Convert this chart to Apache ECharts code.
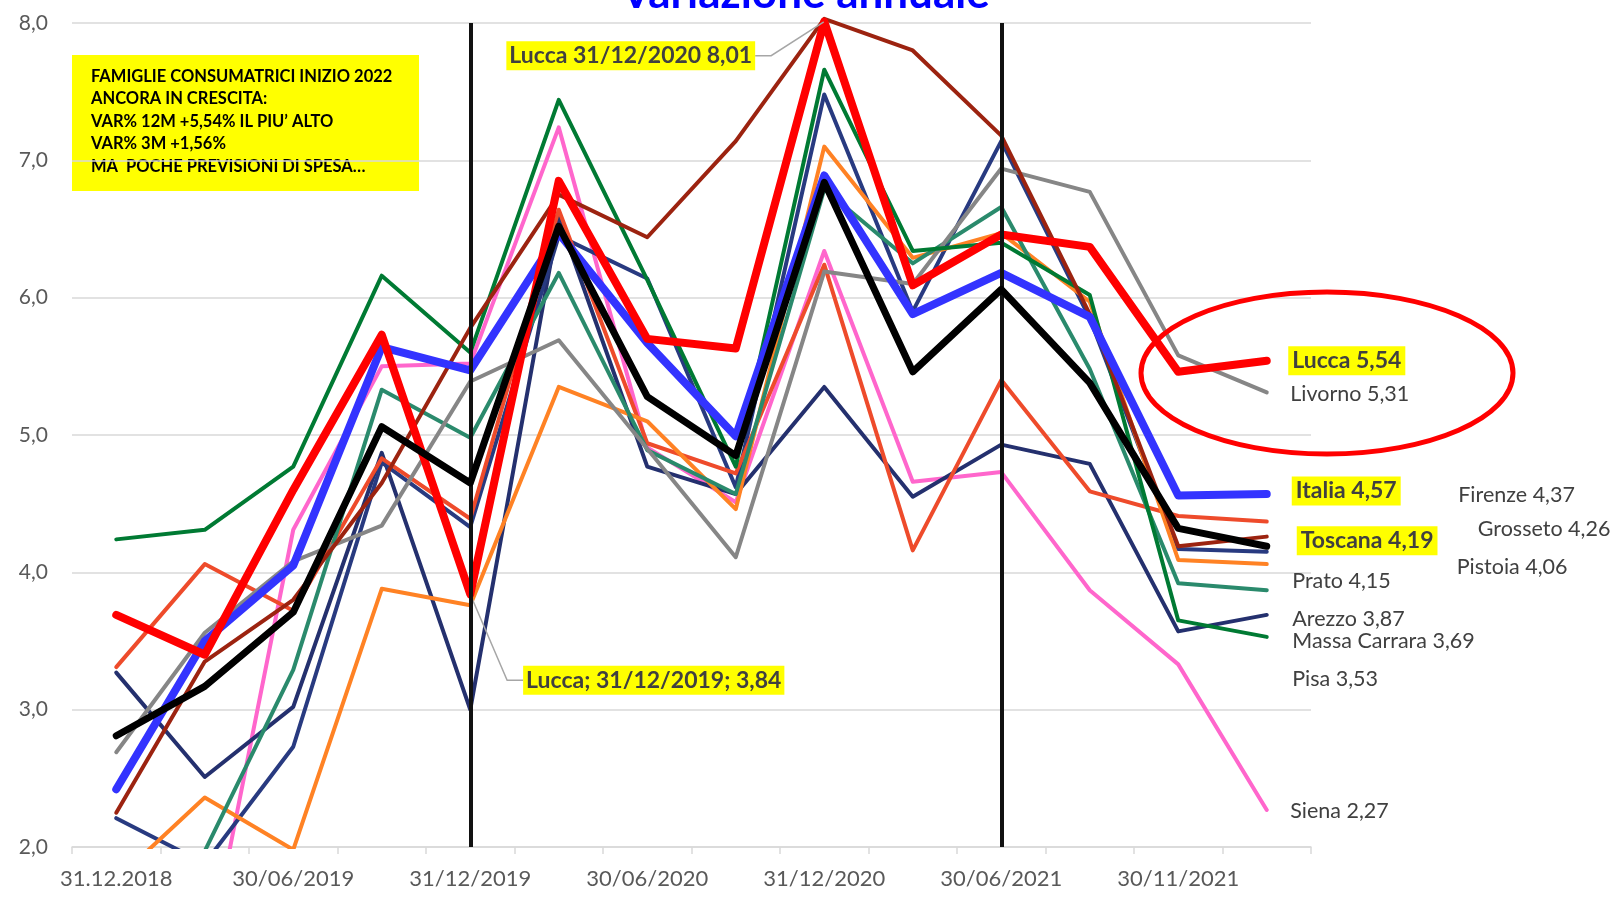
<!DOCTYPE html>
<html>
<head>
<meta charset="utf-8">
<title>Variazione annuale</title>
<script src="https://cdn.jsdelivr.net/npm/echarts@6/dist/echarts.min.js"></script>
<style>
  html, body { margin: 0; padding: 0; background: #fff; }
  #chart { width: 1623px; height: 897px; }
</style>
</head>
<body>
<div id="chart"></div>
<script>
// fine trimestre (etichette mostrate una sì e una no)
const categories = ['31.12.2018', '31/03/2019', '30/06/2019', '30/09/2019', '31/12/2019', '31/03/2020',
  '30/06/2020', '30/09/2020', '31/12/2020', '31/03/2021', '30/06/2021', '30/09/2021', '30/11/2021', '28/02/2022'];

// variazione annuale % famiglie consumatrici
const lucca        = [3.69, 3.40, 4.60, 5.73, 3.84, 6.85, 5.70, 5.63, 8.01, 6.09, 6.46, 6.37, 5.46, 5.54];
const italia       = [2.42, 3.50, 4.05, 5.64, 5.47, 6.47, 5.67, 4.99, 6.89, 5.88, 6.18, 5.86, 4.56, 4.57];
const toscana      = [2.81, 3.17, 3.71, 5.06, 4.65, 6.52, 5.28, 4.85, 6.84, 5.46, 6.06, 5.38, 4.32, 4.19];
const livorno      = [2.69, 3.56, 4.08, 4.34, 5.39, 5.69, 4.90, 4.11, 6.19, 6.10, 6.94, 6.77, 5.58, 5.31];
const firenze      = [3.31, 4.06, 3.72, 4.83, 4.39, 6.64, 4.94, 4.72, 6.24, 4.16, 5.40, 4.59, 4.41, 4.37];
const grosseto     = [2.25, 3.35, 3.80, 4.65, 5.78, 6.75, 6.44, 7.14, 8.03, 7.80, 7.18, 5.88, 4.19, 4.26];
const pistoia      = [1.76, 2.36, 1.98, 3.88, 3.76, 5.35, 5.10, 4.46, 7.10, 6.29, 6.47, 5.97, 4.09, 4.06];
const prato        = [2.21, 1.88, 2.73, 4.80, 4.33, 6.45, 6.14, 4.62, 7.48, 5.90, 7.14, 5.85, 4.17, 4.15];
const arezzo       = [1.60, 1.97, 3.29, 5.33, 4.98, 6.18, 4.89, 4.57, 6.79, 6.25, 6.66, 5.48, 3.92, 3.87];
const massaCarrara = [3.27, 2.51, 3.02, 4.87, 3.00, 6.58, 4.77, 4.57, 5.35, 4.55, 4.93, 4.79, 3.57, 3.69];
const pisa         = [4.24, 4.31, 4.77, 6.16, 5.60, 7.44, 6.13, 4.77, 7.66, 6.34, 6.40, 6.02, 3.65, 3.53];
const siena        = [1.00, 1.07, 4.31, 5.50, 5.52, 7.24, 4.91, 4.51, 6.34, 4.66, 4.73, 3.87, 3.33, 2.27];

const noteLines = [
  'FAMIGLIE CONSUMATRICI INIZIO 2022',
  'ANCORA IN CRESCITA:',
  'VAR% 12M +5,54% IL PIU\u2019 ALTO',
  'VAR% 3M +1,56%',
  'MA  POCHE PREVISIONI DI SPESA\u2026'
];

const FONT = 'Lato, "Open Sans", sans-serif';
const comma = (v, d) => v.toFixed(d).replace('.', ',');

// colore, spessore, spostamento etichetta finale, evidenziata
const lineDefs = [
  { name: 'Siena', data: siena, color: '#FF66CC', width: 4, off: [23.5, 1.5] },
  { name: 'Massa Carrara', data: massaCarrara, color: '#24306E', width: 4, off: [25.5, 26] },
  { name: 'Prato', data: prato, color: '#283A80', width: 4, off: [25.5, 29] },
  { name: 'Firenze', data: firenze, color: '#EE4B2B', width: 4, off: [191.5, -26] },
  { name: 'Pistoia', data: pistoia, color: '#FF8224', width: 4, off: [190, 3] },
  { name: 'Arezzo', data: arezzo, color: '#2A8A6C', width: 4, off: [25.5, 29] },
  { name: 'Livorno', data: livorno, color: '#868686', width: 4, off: [23.5, 2] },
  { name: 'Pisa', data: pisa, color: '#007A33', width: 4, off: [25.5, 42] },
  { name: 'Grosseto', data: grosseto, color: '#9C2310', width: 4, off: [211, -8], noClip: true },
  { name: 'Toscana', data: toscana, color: '#000000', width: 7, off: [30, -5.5], bold: true },
  { name: 'Italia', data: italia, color: '#3333FF', width: 8, off: [25, -3], bold: true },
  { name: 'Lucca', data: lucca, color: '#FF0000', width: 8, off: [21.5, 0], bold: true, noClip: true }
];

const series = lineDefs.map(function (d) {
  return {
    name: d.name,
    type: 'line',
    data: d.data,
    showSymbol: false,
    clip: !d.noClip,
    lineStyle: { color: d.color, width: d.width, cap: 'round', join: 'round' },
    itemStyle: { color: d.color },
    emphasis: { disabled: true },
    endLabel: {
      show: true,
      distance: 0,
      offset: d.off,
      formatter: p => p.seriesName + ' ' + comma(p.value, 2),
      fontFamily: FONT,
      fontSize: d.bold ? 23 : 21.5,
      fontWeight: d.bold ? 'bold' : 'normal',
      color: '#404040',
      backgroundColor: d.bold ? '#FFFF00' : 'transparent',
      padding: d.bold ? [3, 4] : 0
    }
  };
});

// etichette di Lucca sui due punti notevoli
const luccaSeries = series[series.length - 1];
const callouts = {
  4: { text: 'Lucca; 31/12/2019; 3,84', dx: 183.5, dy: 86 },
  8: { text: 'Lucca 31/12/2020 8,01', dx: -193.5, dy: 34 }
};
luccaSeries.showSymbol = true;
luccaSeries.symbol = 'circle';
luccaSeries.symbolSize = 1;
luccaSeries.data = lucca.map(function (v, i) {
  if (!callouts[i]) return v;
  return {
    value: v,
    label: {
      show: true,
      position: 'inside',
      formatter: callouts[i].text,
      fontFamily: FONT,
      fontSize: 23,
      fontWeight: 'bold',
      color: '#404040',
      backgroundColor: '#FFFF00',
      padding: [3, 3]
    },
    labelLine: { show: true, length2: 16, lineStyle: { color: '#A6A6A6', width: 1.5 } }
  };
});
luccaSeries.labelLayout = function (params) {
  const c = callouts[params.dataIndex];
  return c ? { dx: c.dx, dy: c.dy } : {};
};

// linee verticali nere
series[9].markLine = {
  silent: true,
  symbol: ['none', 'none'],
  label: { show: false },
  lineStyle: { color: '#111111', width: 4, type: 'solid' },
  data: [{ xAxis: categories[4] }, { xAxis: categories[10] }]
};
series[9].z = 5;

const chart = echarts.init(document.getElementById('chart'));
const option = {
  animation: false,
  backgroundColor: '#ffffff',
  title: {
    text: 'Variazione annuale',
    left: 616,
    top: -33,
    textStyle: { fontFamily: FONT, fontSize: 44, fontWeight: 'bold', color: '#0000FF' }
  },
  grid: { left: 72, right: 312, top: 23, bottom: 50 },
  xAxis: {
    type: 'category',
    data: categories,
    axisLine: { lineStyle: { color: '#D9D9D9', width: 1.5 } },
    axisTick: { show: true, interval: 0, length: 7, lineStyle: { color: '#D9D9D9', width: 1.5 } },
    axisLabel: { interval: 1, margin: 21, fontFamily: FONT, fontSize: 22, color: '#595959' }
  },
  yAxis: {
    type: 'value',
    min: 2,
    max: 8,
    interval: 1,
    axisLine: { show: false },
    axisTick: { show: false },
    splitLine: { lineStyle: { color: '#D9D9D9', width: 1.5 } },
    axisLabel: { margin: 24, fontFamily: FONT, fontSize: 21, color: '#595959', formatter: v => comma(v, 1) }
  },
  graphic: [
    {
      type: 'group',
      left: 72,
      top: 55,
      children: [
        { type: 'rect', shape: { x: 0, y: 0, width: 347, height: 136 }, style: { fill: '#FFFF00' } },
        {
          type: 'text',
          x: 19,
          y: 10,
          style: {
            text: noteLines.join('\n'),
            font: 'bold 16.5px ' + FONT,
            lineHeight: 22.6,
            fill: '#000000'
          }
        }
      ]
    },
    {
      type: 'ellipse',
      shape: { cx: 1327, cy: 373, rx: 186, ry: 81 },
      style: { fill: 'none', stroke: '#FF0000', lineWidth: 5 },
      z: 10
    }
  ],
  series: series
};
chart.setOption(option);
</script>
</body>
</html>
